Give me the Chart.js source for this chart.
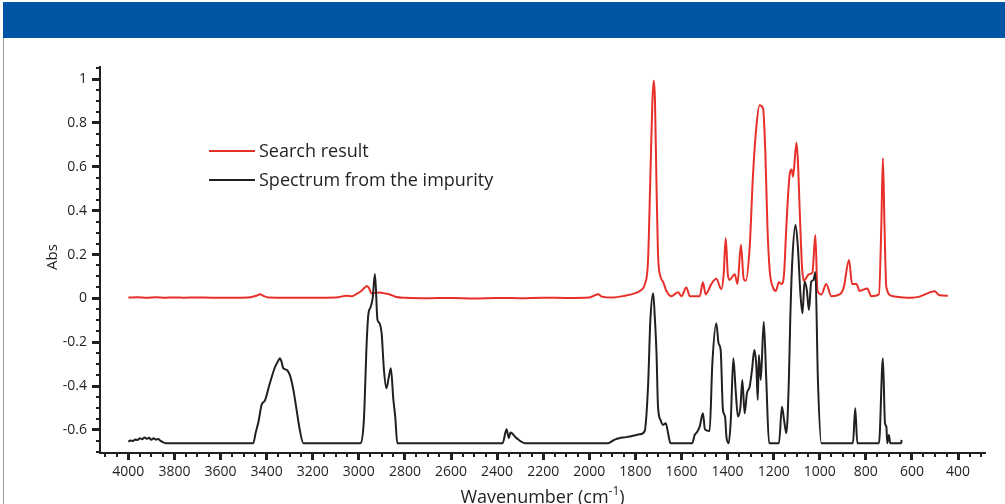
<!DOCTYPE html>
<html>
<head>
<meta charset="utf-8">
<script src="https://cdn.jsdelivr.net/npm/chart.js@4.4.1/dist/chart.umd.min.js"></script>
<style>
  body { margin: 0; background: #fff; }
  #wrap { position: relative; width: 1005px; height: 504px; overflow: hidden; }
  #band { position: absolute; left: 3px; top: 2px; width: 1002px; height: 36px; background: #0055a4; }
  #edge { position: absolute; left: 3px; top: 38px; width: 1px; height: 466px; background: #9a9a9a; }
  canvas { position: absolute; left: 0; top: 0; }
</style>
</head>
<body>
<div id="wrap">
  <canvas id="irChart" width="1005" height="504"></canvas>
  <div id="band"></div>
  <div id="edge"></div>
</div>
<script>
const seriesNames = ['Search result', 'Spectrum from the impurity'];
const xTitle = 'Wavenumber (cm';
const xTitleSup = '-1';
const yTitle = 'Abs';
const xTickLabels = [4000, 3800, 3600, 3400, 3200, 3000, 2800, 2600, 2400, 2200, 2000, 1800, 1600, 1400, 1200, 1000, 800, 600, 400];
const yTickLabels = [-0.6, -0.4, -0.2, 0, 0.2, 0.4, 0.6, 0.8, 1];

// red trace (search result)
const redWn = [4000, 3960, 3920, 3880, 3840, 3800, 3760, 3700, 3640, 3560, 3480, 3445, 3429, 3412, 3390, 3300, 3200, 3100, 3053, 3030, 3010, 2988, 2972, 2964, 2955, 2945, 2925, 2909, 2885, 2866, 2837, 2800, 2700, 2600, 2500, 2400, 2300, 2200, 2100, 2000, 1962, 1945, 1898, 1846, 1800, 1781, 1759, 1745, 1735, 1726, 1720, 1715, 1709, 1702, 1691, 1680, 1665, 1644, 1615, 1600, 1579, 1564, 1521, 1507, 1495, 1470, 1449, 1427, 1417, 1408, 1399, 1391, 1369, 1357, 1342, 1330, 1321, 1304, 1290, 1275, 1261, 1246, 1236, 1227, 1217, 1203, 1191, 1177, 1166, 1155, 1145, 1130, 1122, 1116, 1101, 1095, 1087, 1077, 1069, 1058, 1047, 1032, 1019, 1010, 993, 972, 950, 914, 896, 873, 860, 841, 827, 794, 776, 743, 733, 726, 719, 711, 683, 639, 600, 567, 502, 480, 444];
const redAbs = [0.004, 0.005, 0.003, 0.005, 0.003, 0.004, 0.003, 0.004, 0.003, 0.003, 0.004, 0.012, 0.019, 0.010, 0.004, 0.003, 0.003, 0.004, 0.012, 0.010, 0.020, 0.035, 0.052, 0.057, 0.045, 0.022, 0.026, 0.027, 0.022, 0.018, 0.006, 0.003, 0.001, 0.002, 0.000, 0.002, 0.001, 0.003, 0.002, 0.004, 0.019, 0.008, 0.004, 0.012, 0.024, 0.034, 0.065, 0.175, 0.555, 0.904, 0.992, 0.904, 0.555, 0.206, 0.099, 0.076, 0.034, 0.010, 0.028, 0.010, 0.050, 0.010, 0.010, 0.073, 0.018, 0.066, 0.089, 0.042, 0.110, 0.274, 0.110, 0.084, 0.110, 0.066, 0.243, 0.089, 0.080, 0.236, 0.555, 0.783, 0.881, 0.866, 0.661, 0.327, 0.125, 0.050, 0.034, 0.073, 0.066, 0.110, 0.327, 0.570, 0.588, 0.555, 0.710, 0.631, 0.403, 0.145, 0.080, 0.095, 0.110, 0.118, 0.289, 0.034, 0.018, 0.066, 0.010, 0.018, 0.050, 0.175, 0.066, 0.066, 0.034, 0.045, 0.010, 0.018, 0.327, 0.639, 0.327, 0.050, 0.010, 0.004, 0.003, 0.008, 0.032, 0.014, 0.012];

// black trace (impurity spectrum)
const blackWn = [4000, 3990, 3980, 3970, 3960, 3950, 3940, 3930, 3920, 3910, 3900, 3890, 3880, 3870, 3860, 3850, 3840, 3458, 3448, 3435, 3422, 3407, 3386, 3364, 3350, 3342, 3335, 3328, 3313, 3299, 3284, 3270, 3256, 3241, 2992, 2978, 2966, 2959, 2949, 2940, 2930, 2919, 2912, 2901, 2891, 2880, 2870, 2861, 2850, 2842, 2833, 2376, 2359, 2349, 2342, 2316, 2280, 1918, 1897, 1880, 1868, 1850, 1824, 1800, 1781, 1760, 1745, 1735, 1723, 1716, 1708, 1702, 1691, 1680, 1668, 1658, 1648, 1553, 1543, 1533, 1521, 1507, 1498, 1478, 1466, 1449, 1439, 1430, 1420, 1411, 1405, 1395, 1386, 1375, 1365, 1355, 1344, 1336, 1326, 1316, 1304, 1294, 1284, 1275, 1269, 1264, 1256, 1243, 1232, 1220, 1177, 1164, 1155, 1145, 1134, 1128, 1119, 1105, 1095, 1084, 1075, 1066, 1056, 1047, 1037, 1027, 1019, 1008, 993, 856, 846, 837, 743, 726, 717, 711, 707, 700, 694, 646, 645];
const blackAbs = [-0.653, -0.648, -0.650, -0.643, -0.646, -0.638, -0.642, -0.634, -0.640, -0.636, -0.645, -0.638, -0.644, -0.641, -0.650, -0.655, -0.660, -0.660, -0.615, -0.560, -0.486, -0.465, -0.387, -0.314, -0.285, -0.273, -0.290, -0.318, -0.326, -0.350, -0.417, -0.508, -0.600, -0.660, -0.660, -0.554, -0.205, -0.076, -0.040, 0.000, 0.111, -0.098, -0.110, -0.160, -0.326, -0.410, -0.360, -0.319, -0.463, -0.539, -0.660, -0.660, -0.597, -0.637, -0.612, -0.637, -0.660, -0.660, -0.648, -0.640, -0.637, -0.634, -0.630, -0.624, -0.620, -0.606, -0.400, -0.100, 0.023, -0.080, -0.260, -0.490, -0.554, -0.577, -0.569, -0.615, -0.660, -0.660, -0.623, -0.610, -0.585, -0.524, -0.597, -0.605, -0.296, -0.113, -0.205, -0.235, -0.509, -0.539, -0.630, -0.660, -0.554, -0.273, -0.417, -0.539, -0.494, -0.372, -0.524, -0.433, -0.402, -0.326, -0.235, -0.311, -0.463, -0.258, -0.372, -0.106, -0.372, -0.660, -0.660, -0.494, -0.554, -0.615, -0.372, -0.098, 0.175, 0.335, 0.236, 0.023, -0.068, 0.076, 0.038, -0.053, 0.076, 0.084, 0.120, -0.372, -0.660, -0.660, -0.501, -0.660, -0.660, -0.273, -0.569, -0.585, -0.660, -0.623, -0.660, -0.660, -0.645];

const ink = '#231f20';
const red = '#e8302a';
const fontFamily = "'Open Sans', 'Noto Sans', sans-serif";

// tick positions every 50 cm-1 and every 0.05 Abs
const xTicks = [];
for (let v = 300; v <= 4100; v += 50) xTicks.push(v);
const yTicks = [];
for (let i = 0; i <= 35; i++) yTicks.push(Math.round((-0.7 + i * 0.05) * 100) / 100);

function toPoints(xs, ys) {
  return xs.map((x, i) => ({ x: x, y: ys[i] }));
}

const axisExtras = {
  id: 'axisExtras',
  afterDraw(chart) {
    const c = chart.ctx;
    const xs = chart.scales.x;
    const ys = chart.scales.y;
    const area = chart.chartArea;
    c.save();
    c.fillStyle = ink;

    // tick marks, long ones where there is a label
    xs.ticks.forEach(t => {
      const px = xs.getPixelForValue(t.value);
      const major = xTickLabels.includes(t.value);
      const w = major ? 3 : 2;
      const h = major ? 7 : 4;
      c.fillRect(Math.round(px - w / 2), area.bottom, w, h);
    });
    ys.ticks.forEach(t => {
      const py = ys.getPixelForValue(t.value);
      const major = yTickLabels.includes(t.value);
      const w = major ? 8 : 4;
      const h = major ? 3 : 2;
      c.fillRect(area.left - w, Math.round(py - h / 2), w, h);
    });

    // legend
    chart.data.datasets.forEach((ds, i) => {
      const ly = 151 + i * 29;
      c.strokeStyle = ds.borderColor;
      c.lineWidth = 2.2;
      c.beginPath();
      c.moveTo(209, ly);
      c.lineTo(255, ly);
      c.stroke();
      c.font = '18px ' + fontFamily;
      c.textAlign = 'left';
      c.textBaseline = 'middle';
      c.fillText(ds.label, 259, ly + 1);
    });

    // axis titles
    c.font = '18px ' + fontFamily;
    const supFont = '12px ' + fontFamily;
    const w1 = c.measureText(xTitle).width;
    c.font = supFont;
    const w2 = c.measureText(xTitleSup).width;
    c.font = '18px ' + fontFamily;
    const w3 = c.measureText(')').width;
    let tx = (area.left + area.right) / 2 - (w1 + w2 + w3) / 2;
    c.textAlign = 'left';
    c.textBaseline = 'alphabetic';
    c.fillText(xTitle, tx, 503);
    c.font = supFont;
    c.fillText(xTitleSup, tx + w1, 495);
    c.font = '18px ' + fontFamily;
    c.fillText(')', tx + w1 + w2, 503);

    c.translate(57, (area.top + area.bottom) / 2 - 3);
    c.rotate(-Math.PI / 2);
    c.font = '15px ' + fontFamily;
    c.textAlign = 'center';
    c.fillText(yTitle, 0, 0);
    c.restore();
  }
};

const ctx = document.getElementById('irChart').getContext('2d');

const chart = new Chart(ctx, {
  type: 'line',
  data: {
    datasets: [
      {
        label: seriesNames[0],
        data: toPoints(redWn, redAbs),
        borderColor: red,
        borderWidth: 2,
        pointRadius: 0,
        cubicInterpolationMode: 'monotone',
        order: 2
      },
      {
        label: seriesNames[1],
        data: toPoints(blackWn, blackAbs),
        borderColor: ink,
        borderWidth: 2,
        pointRadius: 0,
        cubicInterpolationMode: 'monotone',
        order: 1
      }
    ]
  },
  options: {
    responsive: false,
    animation: false,
    devicePixelRatio: 1,
    layout: { padding: { top: 67, right: 20, bottom: 0, left: 0 } },
    plugins: {
      legend: { display: false },
      tooltip: { enabled: false }
    },
    scales: {
      x: {
        type: 'linear',
        reverse: true,
        min: 283,
        max: 4123,
        afterBuildTicks: scale => { scale.ticks = xTicks.map(v => ({ value: v })); },
        afterFit: scale => { scale.height = 51; },
        grid: { display: false, drawTicks: false },
        border: { display: true, color: ink, width: 2 },
        ticks: {
          autoSkip: false,
          maxRotation: 0,
          minRotation: 0,
          padding: 11,
          color: ink,
          font: { family: fontFamily, size: 14 },
          callback: v => xTickLabels.includes(v) ? String(v) : ''
        }
      },
      y: {
        type: 'linear',
        min: -0.705,
        max: 1.055,
        afterBuildTicks: scale => { scale.ticks = yTicks.map(v => ({ value: v })); },
        afterFit: scale => { scale.width = 100; },
        grid: { display: false, drawTicks: false },
        border: { display: true, color: ink, width: 2 },
        ticks: {
          autoSkip: false,
          padding: 13,
          color: ink,
          font: { family: fontFamily, size: 14 },
          callback: v => yTickLabels.includes(v) ? String(v) : ''
        }
      }
    }
  },
  plugins: [axisExtras]
});
</script>
</body>
</html>
